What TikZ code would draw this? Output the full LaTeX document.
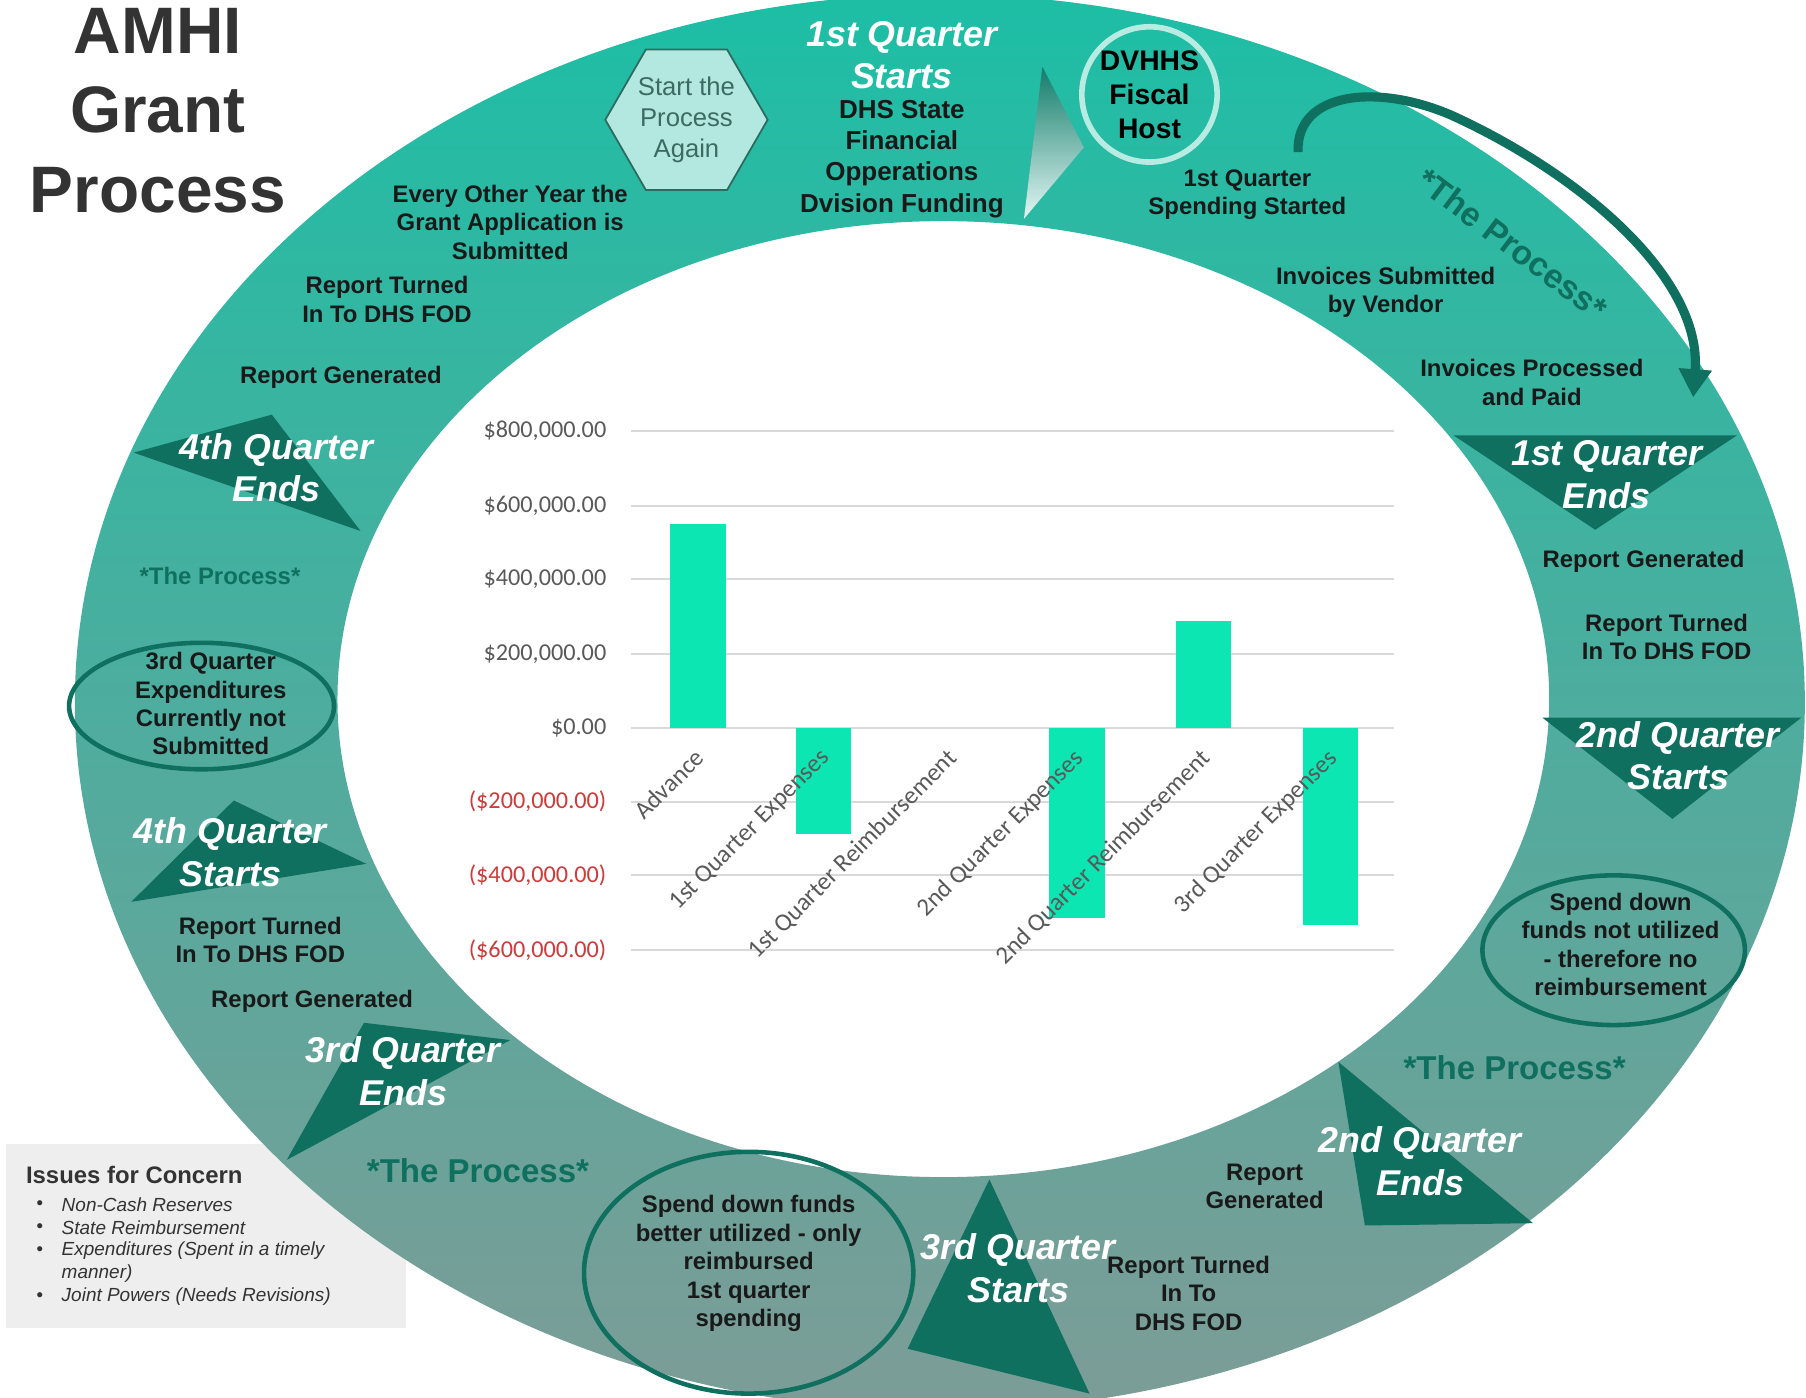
\documentclass[tikz,border=0pt]{standalone}
\usepackage{fontspec}
\setmainfont{Liberation Sans}
\newfontfamily\chartfont{Carlito}
\usetikzlibrary{shapes.geometric,arrows.meta}
\definecolor{ringtop}{HTML}{1DBEA5}
\definecolor{ringmid}{HTML}{A6E3DA}
\definecolor{ringbot}{HTML}{7D9C97}
\definecolor{qdark}{HTML}{0F705F}
\definecolor{hexfill}{HTML}{B2E8DF}
\definecolor{hexline}{HTML}{2B6B60}
\definecolor{hextext}{HTML}{3D6B64}
\definecolor{barmint}{HTML}{0BE6B2}
\definecolor{gridgrey}{HTML}{D9D9D9}
\definecolor{axisgrey}{HTML}{595959}
\definecolor{axisred}{HTML}{D03A3A}
\definecolor{titlegrey}{HTML}{333333}
\definecolor{boxgrey}{HTML}{EEEEEE}
\definecolor{hostring}{HTML}{B8ECE3}

\begin{document}
\begin{tikzpicture}[x=0.011518cm, y=-0.011518cm,
  lbl/.style={font=\fontsize{6.8}{8.1}\selectfont\bfseries, text=black!90, align=center, inner sep=0pt},
  quarter/.style={font=\fontsize{10.2}{12.1}\selectfont\bfseries\itshape, text=white, align=center, inner sep=0pt},
  qtri/.style={fill=qdark},
  oval/.style={ellipse, draw=qdark, line width=1.3pt, inner sep=0pt},
  procbig/.style={font=\fontsize{9.4}{11}\selectfont\bfseries, text=qdark, inner sep=0pt},
  ylab/.style={font=\chartfont\fontsize{6.9}{8}\selectfont, anchor=east, inner sep=0pt},
  xlab/.style={font=\chartfont\fontsize{7.1}{8}\selectfont, text=axisgrey, rotate=45, anchor=north east, inner sep=0pt},
  bar/.style={fill=barmint},
  item/.style={font=\fontsize{5.4}{6.55}\selectfont\itshape, text=titlegrey, align=left, anchor=west, inner sep=0pt}
]
\useasboundingbox (0,0) rectangle (1568,1213);
\clip (0,0) rectangle (1568,1213);

\node[fill=boxgrey, minimum width=113.7pt, minimum height=52.1pt, anchor=north west, inner sep=0pt] (concernbox) at (5,993) {};

\shade[even odd rule, top color=ringtop, middle color=ringmid, bottom color=ringbot]
  (816,610) ellipse [x radius=751, y radius=615]
  (819,607) ellipse [x radius=526, y radius=415];

\foreach \y/\t/\c [count=\i] in {374/{\$800,000.00}/axisgrey, 439/{\$600,000.00}/axisgrey,
    503/{\$400,000.00}/axisgrey, 568/{\$200,000.00}/axisgrey, 632/{\$0.00}/axisgrey,
    696/{(\$200,000.00)}/axisred, 760/{(\$400,000.00)}/axisred, 825/{(\$600,000.00)}/axisred} {%
  \draw[gridgrey, line width=0.5pt] (548,\y) -- (1210,\y);
  \node[ylab, text=\c] (tick\i) at (527,\y) {\t};
}

\foreach \x/\v in {606/550, 715/-286, 935/-512, 1045/287, 1155/-531} {%
  \fill[bar] ({\x-24},632) rectangle ({\x+24},{632-0.322*(\v)});
}

\foreach \x/\t [count=\i] in {606/Advance, 715/1st Quarter Expenses, 825/1st Quarter Reimbursement,
    935/2nd Quarter Expenses, 1045/2nd Quarter Reimbursement, 1155/3rd Quarter Expenses} {%
  \node[xlab] (cat\i) at ({\x-4},648) {\t};
}

\shade[top color=qdark!85!ringtop, bottom color=white!88!ringtop] (905,58) -- (941,128) -- (889,190) -- cycle;

\foreach \a/\b/\c/\pos/\txt [count=\i] in {
    {1262,378}/{1508,378}/{1385,460}/{1395,412}/{1st Quarter\\Ends},
    {1339,623}/{1564,623}/{1452,711}/{1457,656}/{2nd Quarter\\Starts},
    {1162,922}/{1331,1062}/{1185,1064}/{1233,1008}/{2nd Quarter\\Ends},
    {859,1024}/{946,1210}/{788,1171}/{884,1101}/{3rd Quarter\\Starts},
    {316,888}/{443,903}/{249,1007}/{350,930}/{3rd Quarter\\Ends},
    {203,695}/{318,750}/{114,783}/{200,740}/{4th Quarter\\Starts},
    {116,393}/{236,360}/{313,461}/{240,406}/{4th Quarter\\Ends}} {%
  \fill[qtri] (\a) -- (\b) -- (\c) -- cycle;
  \node[quarter] (quarter\i) at (\pos) {\txt};
}

\node[quarter] (q1start) at (783,48) {1st Quarter\\Starts};
\node[lbl, font=\fontsize{7.4}{8.95}\selectfont\bfseries] (funding) at (783,138) {DHS State\\Financial\\Opperations\\Dvision Funding};

\node[regular polygon, regular polygon sides=6, minimum size=46.2pt, fill=hexfill, draw=hexline,
  line width=0.5pt, inner sep=0pt, align=center, text=hextext,
  font=\fontsize{7.3}{8.9}\selectfont] (again) at (596,104) {Start the\\Process\\Again};

\node[circle, draw=hostring, line width=1.6pt, minimum size=38.5pt, inner sep=0pt, align=center,
  font=\fontsize{8.05}{9.7}\selectfont\bfseries] (host) at (998,82) {DVHHS\\Fiscal\\Host};

\coordinate (arcstart) at (1127,132);
\coordinate (arcend) at (1470,345);
\draw[qdark, line width=2.6pt, -{Triangle[length=8pt,width=9pt]}]
  (arcstart) .. controls (1125,80) and (1195,72) .. (1260,100)
  .. controls (1370,150) and (1478,240) .. (arcend);
\node[procbig, font=\fontsize{9.6}{11}\selectfont\bfseries, rotate=-37] (procarc) at (1313,212) {*The Process*};

\node[lbl] (spending) at (1083,169) {1st Quarter\\Spending Started};
\node[lbl] (invsub) at (1203,254) {Invoices Submitted\\by Vendor};
\node[lbl] (invpaid) at (1330,332) {Invoices Processed\\and Paid};
\node[lbl] (repgenA) at (1427,487) {Report Generated};
\node[lbl] (repturnA) at (1447,553) {Report Turned\\In To DHS FOD};

\node[oval, minimum width=74.7pt, minimum height=42.6pt] (ovalB) at (1401,825) {};
\node[lbl] (notused) at (1407,820) {Spend down\\funds not utilized\\- therefore no\\reimbursement};
\node[procbig] (procR) at (1315,927) {*The Process*};
\node[lbl] (repgenB) at (1098,1030) {Report\\Generated};
\node[lbl] (repturnB) at (1032,1123) {Report Turned\\In To\\DHS FOD};

\node[oval, minimum width=93.7pt, minimum height=68.8pt] (ovalC) at (650,1105) {};
\node[lbl] (better) at (650,1097) {Spend down funds\\better utilized - only\\reimbursed\\1st quarter\\spending};
\node[procbig] (procB) at (415,1016) {*The Process*};

\node[lbl] (repgenC) at (271,869) {Report Generated};
\node[lbl] (repturnC) at (226,816) {Report Turned\\In To DHS FOD};
\node[oval, minimum width=75.4pt, minimum height=36pt] (ovalA) at (175,613) {};
\node[lbl] (notsubmitted) at (183,611) {3rd Quarter\\Expenditures\\Currently not\\Submitted};
\node[lbl, text=qdark] (procL) at (191,500) {*The Process*};

\node[lbl] (repgenD) at (296,328) {Report Generated};
\node[lbl] (repturnD) at (336,260) {Report Turned\\In To DHS FOD};
\node[lbl] (everyother) at (443,193) {Every Other Year the\\Grant Application is\\Submitted};

\node[font=\fontsize{18.7}{22.6}\selectfont\bfseries, text=titlegrey, align=center, inner sep=0pt] (title) at (137,96) {AMHI\\Grant\\Process};

\node[anchor=west, font=\fontsize{6.8}{8}\selectfont\bfseries, text=titlegrey, inner sep=0pt] (concern) at (22,1020) {Issues for Concern};
\foreach \y/\by/\t [count=\i] in {1046/1046/Non-Cash Reserves, 1066/1066/State Reimbursement,
    1096/1086/{Expenditures (Spent in a timely\\manner)}, 1126/1126/Joint Powers (Needs Revisions)} {%
  \node[item] (dot\i) at (31,\by) {\textbullet};
  \node[item] (issue\i) at (53,\y) {\t};
}
\end{tikzpicture}
\end{document}
